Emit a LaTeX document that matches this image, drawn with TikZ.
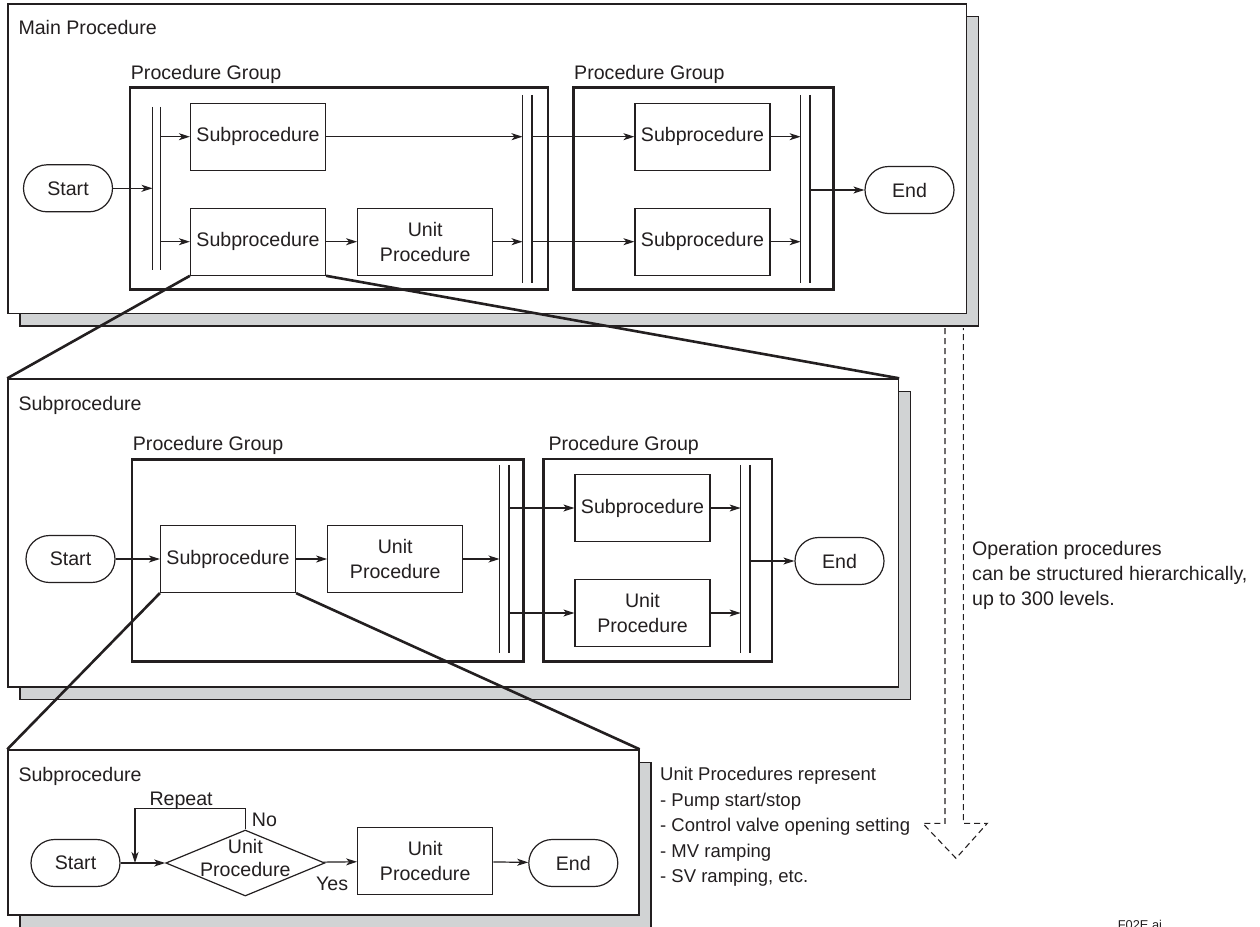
\documentclass[tikz,border=0pt]{standalone}
\usepackage{fontspec}
\setmainfont{Liberation Sans}
\usetikzlibrary{arrows.meta,shapes.geometric,shadows}
\definecolor{ink}{RGB}{35,31,32}
\definecolor{shade}{RGB}{209,211,212}

\begin{document}
\begin{tikzpicture}[
    x=1pt, y=-1pt, % one unit per pixel, y down
    > = {Stealth[length=11pt,width=7pt,inset=3pt]}, % arrow head style
    font=\fontsize{19.6}{25}\selectfont,
    every node/.append style={text=ink},
    panel/.style={rectangle, draw=ink, line width=1.4pt, fill=white, inner sep=0,
        drop shadow={shadow xshift=12pt, shadow yshift=-12.5pt, fill=shade, draw=ink, line width=1.4pt, opacity=1}},
    group/.style={draw=ink, line width=2.6pt, inner sep=0},
    procbox/.style={draw=ink, line width=1.2pt, minimum width=135pt, minimum height=67pt, inner sep=0, align=center},
    term/.style={draw=ink, line width=1.2pt, rounded corners=23.5pt, minimum width=89pt, minimum height=47pt, inner sep=0},
    decision/.style={diamond, draw=ink, line width=1.2pt, minimum width=159pt, minimum height=66pt, inner sep=0},
    bar/.style={inner sep=0, minimum width=9pt, minimum height=188pt},
    flow/.style={->, draw=ink, line width=1.2pt},
    lens/.style={draw=ink, line width=2.6pt},
    hollow/.style={draw=ink, line width=1.1pt, dash pattern=on 6pt off 4pt},
    lbl/.style={anchor=base west, inner sep=0},
    note/.style={anchor=north west, inner sep=0, align=left},
]
\useasboundingbox (0,0) rectangle (1260,926);

% panels
\node[panel, minimum width=958.5pt, minimum height=309.5pt] (P1) at (487.25,158.75) {};
\node[panel, minimum width=890.5pt, minimum height=308pt] (P2) at (453.25,533) {};
\node[panel, minimum width=631pt, minimum height=165pt] (P3) at (323.5,832.5) {};

% main procedure
\node[lbl] (P1lbl) at (18.3,34.3) {Main Procedure};
\node[group, minimum width=418pt, minimum height=202pt] (G1) at (339,188.3) {};
\node[group, minimum width=260.2pt, minimum height=202pt] (G2) at (703.4,188.3) {};
\node[lbl] (G1lbl) at (130.7,79) {Procedure Group};
\node[lbl] (G2lbl) at (574,79) {Procedure Group};
\node[term] (Start1) at (68,188.3) {Start};
\node[term] (End1) at (909.5,190) {End};
\node[bar, minimum width=7.6pt, minimum height=163pt] (B1) at (156.5,188.5) {};
\node[bar] (B2) at (527.2,189) {};
\node[bar] (B3) at (805.3,189) {};
\node[procbox] (SubA1) at (258,136.7) {Subprocedure};
\node[procbox] (SubB1) at (258,241.7) {Subprocedure};
\node[procbox] (UnitP1) at (425.2,241.7) {Unit\\Procedure};
\node[procbox] (SubC1) at (702.5,136.7) {Subprocedure};
\node[procbox] (SubD1) at (702.5,241.7) {Subprocedure};

\draw[flow] (Start1) -- (Start1 -| B1.west);
\draw[flow] (B1.east |- SubA1) -- (SubA1);
\draw[flow] (B1.east |- SubB1) -- (SubB1);
\draw[flow] (SubA1) -- (SubA1 -| B2.west);
\draw[flow] (SubB1) -- (UnitP1);
\draw[flow] (UnitP1) -- (UnitP1 -| B2.west);
\draw[flow] (B2.east |- SubC1) -- (SubC1);
\draw[flow] (B2.east |- SubD1) -- (SubD1);
\draw[flow] (SubC1) -- (SubC1 -| B3.west);
\draw[flow] (SubD1) -- (SubD1 -| B3.west);
\draw[flow] (B3.east |- End1) -- (End1);

% subprocedure
\node[lbl] (P2lbl) at (18.3,410) {Subprocedure};
\node[group, minimum width=391.3pt, minimum height=202.4pt] (GA) at (327.65,560.5) {};
\node[group, minimum width=228.7pt, minimum height=202.7pt] (GB) at (657.65,560.35) {};
\node[lbl] (GAlbl) at (132.7,450.7) {Procedure Group};
\node[lbl] (GBlbl) at (548.3,450.7) {Procedure Group};
\node[term] (Start2) at (70.5,559) {Start};
\node[term] (End2) at (839.5,561) {End};
\node[bar] (BA) at (504.2,559) {};
\node[bar] (BB) at (745.3,559) {};
\node[procbox] (Sub2) at (228,559) {Subprocedure};
\node[procbox] (Unit2) at (395.2,559) {Unit\\Procedure};
\node[procbox] (SubE2) at (642.5,508) {Subprocedure};
\node[procbox] (UnitE2) at (642.5,613) {Unit\\Procedure};

\draw[flow] (Start2) -- (Sub2);
\draw[flow] (Sub2) -- (Unit2);
\draw[flow] (Unit2) -- (Unit2 -| BA.west);
\draw[flow] (BA.east |- SubE2) -- (SubE2);
\draw[flow] (BA.east |- UnitE2) -- (UnitE2);
\draw[flow] (SubE2) -- (SubE2 -| BB.west);
\draw[flow] (UnitE2) -- (UnitE2 -| BB.west);
\draw[flow] (BB.east |- End2) -- (End2);

\foreach \b in {B1,B2,B3,BA,BB}
    \draw[draw=ink, line width=1.2pt] (\b.north west) -- (\b.south west) (\b.north east) -- (\b.south east);

% lowest level
\node[lbl] (P3lbl) at (18.3,781.7) {Subprocedure};
\node[term] (Start3) at (75.5,863) {Start};
\node[decision] (Dec) at (245.3,863) {};
\node[align=center, inner sep=0, font=\fontsize{19.6}{23}\selectfont] (DecTxt) at (245.3,858) {Unit\\Procedure};
\node[procbox] (Unit3) at (425.2,861) {Unit\\Procedure};
\node[term] (End3) at (573.3,863) {End};
\coordinate (Loop) at (135,863);
\node[lbl] (Rep) at (149.3,805) {Repeat};
\node[lbl] (No) at (251.7,826) {No};
\node[lbl] (Yes) at (316,890) {Yes};

\draw[flow] (Start3) -- (Dec);
\draw[flow] (Dec.north) -- ++(0,-20.7) -| (Loop);
\draw[flow] (Dec) -- (Unit3);
\draw[flow] (Unit3) -- (End3);

% zoom lines
\draw[lens] (SubB1.south west) -- (P2.north west);
\draw[lens] (SubB1.south east) -- (P2.north east);
\draw[lens] (Sub2.south west) -- (P3.north west);
\draw[lens] (Sub2.south east) -- (P3.north east);

% notes
\coordinate (HL) at (945,328);
\coordinate (HR) at (963.3,328);
\draw[hollow] (HL) -- (945,823.3) -- (922.7,823.3) -- (956,858.3) -- (987.3,823.3) -- (963.3,823.3) -- (HR);
\node[note] (NoteOp) at (972,541) {Operation procedures\\can be structured hierarchically,\\up to 300 levels.};
\node[note, font=\fontsize{18.5}{25.5}\selectfont] (NoteUnit) at (660,767) {Unit Procedures represent\\- Pump start/stop\\- Control valve opening setting\\- MV ramping\\- SV ramping, etc.};
\node[anchor=north west, inner sep=0, font=\fontsize{12.8}{14}\selectfont] (Fig) at (1117.7,920.5) {F02E.ai};
\end{tikzpicture}
\end{document}
